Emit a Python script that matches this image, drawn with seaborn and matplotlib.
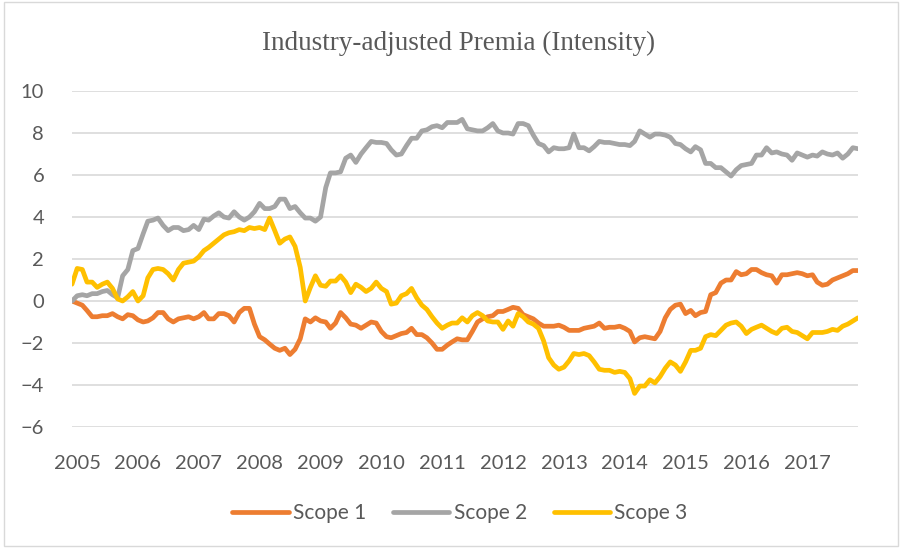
import numpy as np
import pandas as pd
import matplotlib.pyplot as plt
import seaborn as sns
from matplotlib.lines import Line2D
from matplotlib.patches import Rectangle

# monthly values (156 months, Dec 2004 - Nov 2017)
scope1 = [
    0.0, -0.1, -0.2, -0.45, -0.75, -0.75, -0.7, -0.7, -0.6, -0.75, -0.85, -0.65,
    -0.7, -0.9, -1.0, -0.95, -0.8, -0.55, -0.55, -0.85, -1.0, -0.85, -0.8, -0.75,
    -0.85, -0.75, -0.55, -0.85, -0.85, -0.6, -0.6, -0.7, -1.0, -0.55, -0.35, -0.35,
    -1.1, -1.7, -1.85, -2.05, -2.25, -2.35, -2.25, -2.55, -2.3, -1.8, -0.85, -1.0,
    -0.8, -0.95, -1.0, -1.3, -1.05, -0.55, -0.8, -1.1, -1.15, -1.3, -1.15, -1.0,
    -1.05, -1.45, -1.7, -1.75, -1.65, -1.55, -1.5, -1.3, -1.6, -1.6, -1.75, -2.0,
    -2.3, -2.3, -2.1, -1.95, -1.8, -1.85, -1.85, -1.45, -1.0, -0.85, -0.75, -0.7,
    -0.5, -0.5, -0.4, -0.3, -0.35, -0.65, -0.75, -0.85, -1.05, -1.2, -1.2, -1.2,
    -1.15, -1.25, -1.4, -1.4, -1.4, -1.3, -1.25, -1.2, -1.05, -1.3, -1.25, -1.25,
    -1.2, -1.3, -1.45, -1.95, -1.75, -1.7, -1.75, -1.8, -1.45, -0.8, -0.4, -0.2,
    -0.15, -0.6, -0.45, -0.7, -0.55, -0.5, 0.3, 0.4, 0.85, 1.0, 1.0, 1.4,
    1.25, 1.3, 1.5, 1.5, 1.35, 1.25, 1.2, 0.85, 1.25, 1.25, 1.3, 1.35,
    1.3, 1.2, 1.25, 0.9, 0.75, 0.8, 1.0, 1.1, 1.2, 1.3, 1.45, 1.45,
]
scope2 = [
    0.0, 0.25, 0.3, 0.25, 0.35, 0.35, 0.45, 0.5, 0.3, 0.15, 1.2, 1.5,
    2.4, 2.5, 3.2, 3.8, 3.85, 3.95, 3.6, 3.35, 3.5, 3.5, 3.35, 3.4,
    3.6, 3.4, 3.9, 3.85, 4.05, 4.2, 4.0, 3.95, 4.25, 4.0, 3.85, 4.0,
    4.25, 4.65, 4.4, 4.4, 4.5, 4.85, 4.85, 4.4, 4.5, 4.2, 3.95, 3.95,
    3.8, 4.0, 5.4, 6.1, 6.1, 6.15, 6.8, 6.95, 6.6, 7.0, 7.3, 7.6,
    7.55, 7.55, 7.5, 7.2, 6.95, 7.0, 7.4, 7.75, 7.75, 8.1, 8.15, 8.3,
    8.35, 8.25, 8.5, 8.5, 8.5, 8.65, 8.2, 8.15, 8.1, 8.1, 8.25, 8.45,
    8.1, 8.0, 8.0, 7.95, 8.45, 8.45, 8.35, 7.9, 7.5, 7.4, 7.1, 7.3,
    7.25, 7.25, 7.3, 7.95, 7.3, 7.3, 7.15, 7.35, 7.6, 7.55, 7.55, 7.5,
    7.45, 7.45, 7.4, 7.6, 8.1, 7.95, 7.8, 7.95, 7.95, 7.9, 7.8, 7.5,
    7.45, 7.25, 7.1, 7.35, 7.2, 6.55, 6.55, 6.35, 6.35, 6.15, 5.95, 6.25,
    6.45, 6.5, 6.55, 6.95, 6.95, 7.3, 7.05, 7.1, 7.0, 6.95, 6.7, 7.05,
    6.95, 6.85, 6.95, 6.9, 7.1, 7.0, 6.95, 7.05, 6.8, 7.0, 7.3, 7.25,
]
scope3 = [
    0.8, 1.55, 1.5, 0.9, 0.9, 0.65, 0.8, 0.9, 0.6, 0.1, 0.0, 0.2,
    0.45, 0.0, 0.25, 1.1, 1.5, 1.55, 1.5, 1.3, 1.0, 1.5, 1.8, 1.85,
    1.9, 2.1, 2.4, 2.55, 2.75, 2.95, 3.15, 3.25, 3.3, 3.4, 3.35, 3.5,
    3.45, 3.5, 3.4, 3.95, 3.35, 2.75, 2.95, 3.05, 2.6, 1.6, 0.0, 0.65,
    1.2, 0.75, 0.7, 0.95, 0.95, 1.2, 0.9, 0.4, 0.8, 0.65, 0.45, 0.6,
    0.9, 0.6, 0.45, -0.15, -0.1, 0.25, 0.35, 0.6, 0.15, -0.2, -0.4, -0.75,
    -1.05, -1.3, -1.15, -1.05, -1.05, -0.8, -1.0, -0.7, -0.55, -0.7, -0.95, -1.0,
    -1.0, -1.35, -0.95, -1.2, -0.6, -0.75, -1.0, -1.1, -1.3, -1.9, -2.7, -3.05,
    -3.25, -3.15, -2.85, -2.5, -2.55, -2.5, -2.6, -2.9, -3.25, -3.3, -3.3, -3.4,
    -3.35, -3.4, -3.7, -4.4, -4.05, -4.05, -3.75, -3.9, -3.6, -3.2, -2.9, -3.05,
    -3.35, -2.9, -2.35, -2.35, -2.25, -1.7, -1.6, -1.65, -1.4, -1.15, -1.05, -1.0,
    -1.2, -1.55, -1.35, -1.25, -1.15, -1.3, -1.45, -1.55, -1.3, -1.25, -1.45, -1.5,
    -1.65, -1.8, -1.5, -1.5, -1.5, -1.45, -1.35, -1.4, -1.2, -1.1, -0.95, -0.8,
]
series_names = ['Scope 1', 'Scope 2', 'Scope 3']
colores = ['#ED7D31', '#A5A5A5', '#FFC000']
years = list(range(2005, 2018))

fechas = pd.date_range('2004-12-01', periods=len(scope1), freq='MS')
df = pd.DataFrame({'fecha': fechas, 'Scope 1': scope1, 'Scope 2': scope2, 'Scope 3': scope3})
df_long = df.melt(id_vars='fecha', var_name='serie', value_name='valor')

sns.set_style('white')
plt.rcParams['font.family'] = ['Lato', 'DejaVu Sans']

fig = plt.figure(figsize=(9.02, 5.48), dpi=100)
ax = fig.add_axes([72 / 902, 1 - 427 / 548, (858 - 72) / 902, (427 - 91) / 548])

sns.lineplot(data=df_long, x='fecha', y='valor', hue='serie', palette=colores,
             linewidth=3.4, legend=False, ax=ax, zorder=3)

ax.set_ylim(-6, 10)
ax.set_yticks(range(-6, 11, 2))
ax.set_xlim(fechas[0], fechas[-1])
ax.set_xticks([pd.Timestamp(f'{y}-01-01') for y in years])
ax.set_xticklabels([str(y) for y in years])
ax.grid(axis='y', color='#d9d9d9', linewidth=1.2)
ax.grid(axis='x', visible=False)
for s in ax.spines.values():
    s.set_visible(False)
ax.tick_params(axis='y', length=0, pad=20, labelsize=14.5, labelcolor='#595959')
ax.tick_params(axis='x', length=0, pad=20, labelsize=14.5, labelcolor='#595959')
ax.set_xlabel('')
ax.set_ylabel('')

fig.text(0.508, 1 - 43 / 548, 'Industry-adjusted Premia (Intensity)', ha='center', va='center',
         fontsize=19.5, color='#595959', family='Liberation Serif')

handles = [Line2D([0], [0], color=c, lw=3.4, solid_capstyle='round') for c in colores]
fig.legend(handles, series_names, loc='center', bbox_to_anchor=(0.51, 1 - 513 / 548), ncol=3,
           frameon=False, fontsize=15, labelcolor='#595959', handlelength=2.7,
           handletextpad=0.2, columnspacing=1.3)

fig.patches.append(Rectangle((0.004, 0.004), 0.992, 0.992, transform=fig.transFigure,
                             fill=False, edgecolor='#d9d9d9', linewidth=1))

plt.savefig('out.png', dpi=100)
